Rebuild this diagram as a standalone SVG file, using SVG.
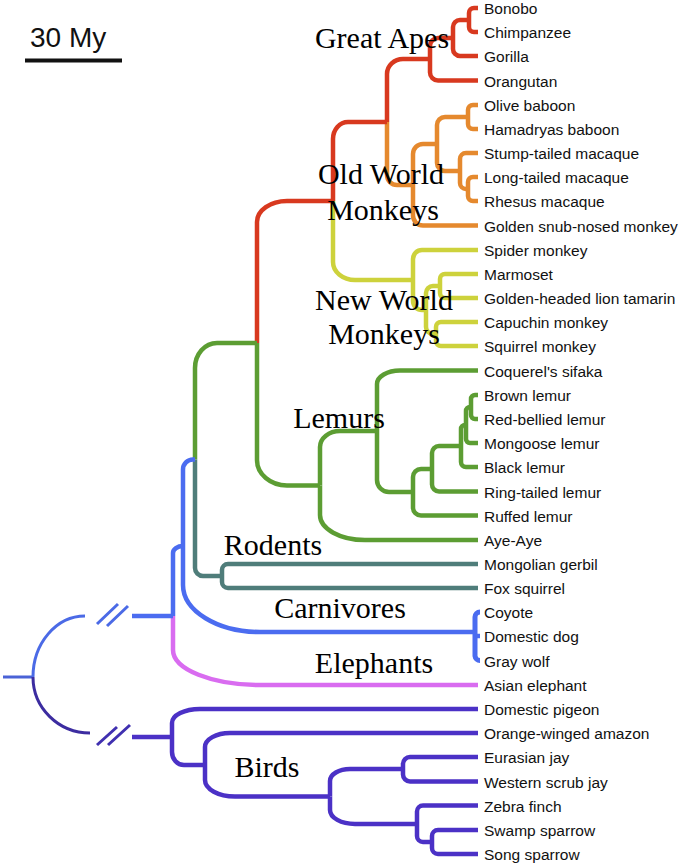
<svg xmlns="http://www.w3.org/2000/svg" width="680" height="864" viewBox="0 0 680 864">
<style>
.b{fill:none;stroke-width:4.5;stroke-linecap:butt;stroke-linejoin:round}
.r{stroke:#d8391f}.o{stroke:#e5892e}.y{stroke:#cdd23c}.g{stroke:#5c9d33}.t{stroke:#4f7d7a}
.bl{stroke:#4b6cf0}.p{stroke:#d96cf0}.pu{stroke:#4b31c6}
.rt{fill:none;stroke-width:3}
.leaf{font-family:"Liberation Sans",Arial,sans-serif;font-size:15.5px;fill:#111}
.clade{font-family:"Liberation Serif","Times New Roman",serif;font-size:30px;fill:#000;text-anchor:middle}
</style>
<rect width="680" height="864" fill="#fff"/>
<g id="scale-bar">
<text x="30" y="47" font-family="Liberation Sans, Arial, sans-serif" font-size="28" fill="#111">30 My</text>
<line x1="25" y1="60.5" x2="122" y2="60.5" stroke="#111" stroke-width="4"/>
</g>
<g id="connectors">
<!-- Great apes -->
<path class="b r" d="M469 20 V13 A5 5 0 0 1 474 8 H478"/>
<path class="b r" d="M469 20 V27 A5 5 0 0 0 474 32 H478"/>
<path class="b r" d="M453 38 V27 A7 7 0 0 1 460 20 H469"/>
<path class="b r" d="M453 38 V49 A7 7 0 0 0 460 56 H478"/>
<path class="b r" d="M430 59 V46 A8 8 0 0 1 438 38 H453"/>
<path class="b r" d="M430 59 V72.5 A8 8 0 0 0 438 80.5 H478"/>
<path class="b r" d="M387 122 V74 A16 15 0 0 1 403 59 H430"/>
<path class="b o" d="M387 122 V175 A10 10 0 0 0 397 185 H413"/>
<!-- Old World monkeys -->
<path class="b o" d="M468 117 V110 A5 5 0 0 1 473 105 H478"/>
<path class="b o" d="M468 117 V124 A5 5 0 0 0 473 129 H478"/>
<path class="b o" d="M468 189 V182 A5 5 0 0 1 473 177 H478"/>
<path class="b o" d="M468 189 V196 A5 5 0 0 0 473 201 H478"/>
<path class="b o" d="M460 171 V159 A6 6 0 0 1 466 153 H478"/>
<path class="b o" d="M460 171 V183 A6 6 0 0 0 466 189 H468"/>
<path class="b o" d="M437 144 V125 A8 8 0 0 1 445 117 H468"/>
<path class="b o" d="M437 144 V163 A8 8 0 0 0 445 171 H460"/>
<path class="b o" d="M413 185 V154 A10 10 0 0 1 423 144 H437"/>
<path class="b o" d="M413 185 V215.5 A10 10 0 0 0 423 225.5 H478"/>
<!-- Anthropoids -->
<path class="b r" d="M333 201 V139 A15 17 0 0 1 348 122 H387"/>
<path class="b y" d="M333 201 V262 A22 18 0 0 0 355 280 H413"/>
<!-- New World monkeys -->
<path class="b y" d="M440 286 V279 A5 5 0 0 1 445 274 H478"/>
<path class="b y" d="M440 286 V293 A5 5 0 0 0 445 298 H478"/>
<path class="b y" d="M436 334 V327 A5 5 0 0 1 441 322 H478"/>
<path class="b y" d="M436 334 V341 A5 5 0 0 0 441 346 H478"/>
<path class="b y" d="M426 310 V293 A7 7 0 0 1 433 286 H440"/>
<path class="b y" d="M426 310 V327 A7 7 0 0 0 433 334 H436"/>
<path class="b y" d="M413 280 V259 A9 9 0 0 1 422 250 H478"/>
<path class="b y" d="M413 280 V301 A9 9 0 0 0 422 310 H426"/>
<!-- Primates -->
<path class="b r" d="M257 343 V222 A30 21 0 0 1 287 201 H333"/>
<path class="b g" d="M257 343 V460 A30 25.5 0 0 0 287 485.5 H320"/>
<!-- Lemurs -->
<path class="b g" d="M471 407 V399 A4 4 0 0 1 475 395 H478"/>
<path class="b g" d="M471 407 V415 A4 4 0 0 0 475 419 H478"/>
<path class="b g" d="M466 425 V411 A4 4 0 0 1 470 407 H471"/>
<path class="b g" d="M466 425 V439 A4 4 0 0 0 470 443 H478"/>
<path class="b g" d="M461 446 V429 A4 4 0 0 1 465 425 H466"/>
<path class="b g" d="M461 446 V462 A5 5 0 0 0 466 467 H478"/>
<path class="b g" d="M432 469 V453 A7 7 0 0 1 439 446 H461"/>
<path class="b g" d="M432 469 V484.5 A7 7 0 0 0 439 491.5 H478"/>
<path class="b g" d="M413 492 V477 A8 8 0 0 1 421 469 H432"/>
<path class="b g" d="M413 492 V507.5 A8 8 0 0 0 421 515.5 H478"/>
<path class="b g" d="M377 431 V384 A23 13.5 0 0 1 400 370.5 H478"/>
<path class="b g" d="M377 431 V480 A12 12 0 0 0 389 492 H413"/>
<path class="b g" d="M320 485.5 V447 A20 16 0 0 1 340 431 H377"/>
<path class="b g" d="M320 485.5 V515 A45 25 0 0 0 365 540 H478"/>
<!-- Euarchontoglires -->
<path class="b g" d="M195 459.5 V368 A22 25 0 0 1 217 343 H257"/>
<path class="b t" d="M195 459.5 V568 A8 8 0 0 0 203 576 H222"/>
<path class="b t" d="M222 576 V570 A6 6 0 0 1 228 564 H478"/>
<path class="b t" d="M222 576 V582 A6 6 0 0 0 228 588 H478"/>
<!-- Boreoeutheria / Carnivores -->
<path class="b bl" d="M183 546 V469.5 A10 10 0 0 1 193 459.5 H195"/>
<path class="b bl" d="M183 546 V585 A77 47 0 0 0 260 632 H475"/>
<path class="b bl" d="M480 612 A5 5 0 0 0 475 617 V656 A5 5 0 0 0 480 660.5" style="stroke-width:5"/>
<path class="b bl" d="M475 636 H480"/>
<!-- Placentals -->
<path class="b bl" d="M173 616 V553 A10 7 0 0 1 183 546"/>
<path class="b p" d="M173 616 V650 A87 35 0 0 0 260 685 H478"/>
<path class="b bl" d="M132 616 H173"/>
<!-- Birds -->
<path class="b pu" d="M432 842 V836 A6 6 0 0 1 438 830 H478"/>
<path class="b pu" d="M432 842 V848 A6 6 0 0 0 438 854 H478"/>
<path class="b pu" d="M417 824 V811.5 A6 6 0 0 1 423 805.5 H478"/>
<path class="b pu" d="M417 824 V836 A6 6 0 0 0 423 842 H432"/>
<path class="b pu" d="M403 769 V764 A7 7 0 0 1 410 757 H478"/>
<path class="b pu" d="M403 769 V774.5 A7 7 0 0 0 410 781.5 H478"/>
<path class="b pu" d="M330 796.5 V781 A20 12 0 0 1 350 769 H403"/>
<path class="b pu" d="M330 796.5 V810 A25 14 0 0 0 355 824 H417"/>
<path class="b pu" d="M205 765 V747 A25 14 0 0 1 230 733 H478"/>
<path class="b pu" d="M205 765 V780 A30 16.5 0 0 0 235 796.5 H330"/>
<path class="b pu" d="M172 737 V723 A28 14 0 0 1 200 709 H478"/>
<path class="b pu" d="M172 737 V752 A12 13 0 0 0 184 765 H205"/>
<path class="b pu" d="M132 737 H172"/>
<!-- Root and breaks -->
<path class="rt" stroke="#4a62d6" d="M3 677 H33"/>
<path class="rt" stroke="#4b6ae6" d="M33 677 A52 61 0 0 1 85 616"/>
<path class="rt" stroke="#3c2ca0" d="M33 677 A57 56 0 0 0 90 733"/>
<path class="rt" stroke="#4b6ae6" d="M97 624 L118 604 M107 626 L128 606"/>
<path class="rt" stroke="#4030b0" d="M97 745 L117 727 M108 745 L130 725"/>
</g>
<g id="clade-great-apes"><text class="clade" x="382" y="48">Great Apes</text></g>
<g id="clade-old-world-monkeys"><text class="clade" x="381" y="184">Old World</text><text class="clade" x="383" y="220">Monkeys</text></g>
<g id="clade-new-world-monkeys"><text class="clade" x="384" y="310">New World</text><text class="clade" x="384" y="344">Monkeys</text></g>
<g id="clade-lemurs"><text class="clade" x="339" y="428">Lemurs</text></g>
<g id="clade-rodents"><text class="clade" x="273" y="555">Rodents</text></g>
<g id="clade-carnivores"><text class="clade" x="340" y="618">Carnivores</text></g>
<g id="clade-elephants"><text class="clade" x="374" y="673">Elephants</text></g>
<g id="clade-birds"><text class="clade" x="267" y="777">Birds</text></g>
<g id="leaves">
<g id="leaf-bonobo"><text class="leaf" x="484" y="14">Bonobo</text></g>
<g id="leaf-chimpanzee"><text class="leaf" x="484" y="38">Chimpanzee</text></g>
<g id="leaf-gorilla"><text class="leaf" x="484" y="62">Gorilla</text></g>
<g id="leaf-orangutan"><text class="leaf" x="484" y="86.5">Orangutan</text></g>
<g id="leaf-olive-baboon"><text class="leaf" x="484" y="111">Olive baboon</text></g>
<g id="leaf-hamadryas-baboon"><text class="leaf" x="484" y="135">Hamadryas baboon</text></g>
<g id="leaf-stump-tailed-macaque"><text class="leaf" x="484" y="159">Stump-tailed macaque</text></g>
<g id="leaf-long-tailed-macaque"><text class="leaf" x="484" y="183">Long-tailed macaque</text></g>
<g id="leaf-rhesus-macaque"><text class="leaf" x="484" y="207">Rhesus macaque</text></g>
<g id="leaf-golden-snub-nosed-monkey"><text class="leaf" x="484" y="231.5">Golden snub-nosed monkey</text></g>
<g id="leaf-spider-monkey"><text class="leaf" x="484" y="256">Spider monkey</text></g>
<g id="leaf-marmoset"><text class="leaf" x="484" y="280">Marmoset</text></g>
<g id="leaf-golden-headed-lion-tamarin"><text class="leaf" x="484" y="304">Golden-headed lion tamarin</text></g>
<g id="leaf-capuchin-monkey"><text class="leaf" x="484" y="328">Capuchin monkey</text></g>
<g id="leaf-squirrel-monkey"><text class="leaf" x="484" y="352">Squirrel monkey</text></g>
<g id="leaf-coquerels-sifaka"><text class="leaf" x="484" y="376.5">Coquerel's sifaka</text></g>
<g id="leaf-brown-lemur"><text class="leaf" x="484" y="401">Brown lemur</text></g>
<g id="leaf-red-bellied-lemur"><text class="leaf" x="484" y="425">Red-bellied lemur</text></g>
<g id="leaf-mongoose-lemur"><text class="leaf" x="484" y="449">Mongoose lemur</text></g>
<g id="leaf-black-lemur"><text class="leaf" x="484" y="473">Black lemur</text></g>
<g id="leaf-ring-tailed-lemur"><text class="leaf" x="484" y="497.5">Ring-tailed lemur</text></g>
<g id="leaf-ruffed-lemur"><text class="leaf" x="484" y="521.5">Ruffed lemur</text></g>
<g id="leaf-aye-aye"><text class="leaf" x="484" y="546">Aye-Aye</text></g>
<g id="leaf-mongolian-gerbil"><text class="leaf" x="484" y="570">Mongolian gerbil</text></g>
<g id="leaf-fox-squirrel"><text class="leaf" x="484" y="594">Fox squirrel</text></g>
<g id="leaf-coyote"><text class="leaf" x="484" y="618">Coyote</text></g>
<g id="leaf-domestic-dog"><text class="leaf" x="484" y="642">Domestic dog</text></g>
<g id="leaf-gray-wolf"><text class="leaf" x="484" y="666.5">Gray wolf</text></g>
<g id="leaf-asian-elephant"><text class="leaf" x="484" y="691">Asian elephant</text></g>
<g id="leaf-domestic-pigeon"><text class="leaf" x="484" y="715">Domestic pigeon</text></g>
<g id="leaf-orange-winged-amazon"><text class="leaf" x="484" y="739">Orange-winged amazon</text></g>
<g id="leaf-eurasian-jay"><text class="leaf" x="484" y="763">Eurasian jay</text></g>
<g id="leaf-western-scrub-jay"><text class="leaf" x="484" y="787.5">Western scrub jay</text></g>
<g id="leaf-zebra-finch"><text class="leaf" x="484" y="811.5">Zebra finch</text></g>
<g id="leaf-swamp-sparrow"><text class="leaf" x="484" y="836">Swamp sparrow</text></g>
<g id="leaf-song-sparrow"><text class="leaf" x="484" y="860">Song sparrow</text></g>
</g>
</svg>
